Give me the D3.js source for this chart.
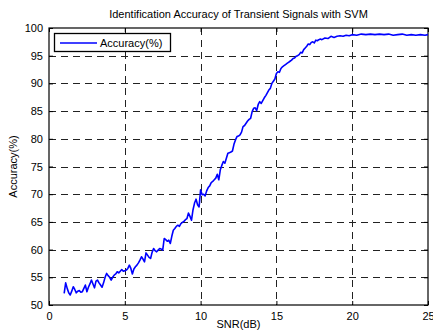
<!DOCTYPE html>
<html><head><meta charset="utf-8">
<script src="https://cdn.jsdelivr.net/npm/d3@7/dist/d3.min.js"></script>
<style>body{margin:0;background:#fff;}svg text{font-family:"Liberation Sans",Arial,sans-serif;}</style>
</head><body>
<script>
const title = "Identification Accuracy of Transient Signals with SVM";
const xLabel = "SNR(dB)";
const yLabel = "Accuracy(%)";
const seriesName = "Accuracy(%)";
const xTicks = [0,5,10,15,20,25];
const yTicks = [50,55,60,65,70,75,80,85,90,95,100];
const snr = [1.0,1.1,1.2,1.3,1.4,1.5,1.6,1.7,1.8,1.9,2.0,2.1,2.2,2.3,2.4,2.5,2.6,2.7,2.8,2.9,
3.0,3.1,3.2,3.3,3.4,3.5,3.6,3.7,3.8,3.9,4.0,4.1,4.2,4.3,4.4,4.5,4.6,4.7,4.8,4.9,
5.0,5.1,5.2,5.3,5.4,5.5,5.6,5.7,5.8,5.9,6.0,6.1,6.2,6.3,6.4,6.5,6.6,6.7,6.8,6.9,
7.0,7.1,7.2,7.3,7.4,7.5,7.6,7.7,7.8,7.9,8.0,8.1,8.2,8.3,8.4,8.5,8.6,8.7,8.8,8.9,
9.0,9.1,9.2,9.3,9.4,9.5,9.6,9.7,9.8,9.9,10.0,10.1,10.2,10.3,10.4,10.5,10.6,10.7,10.8,10.9,
11.0,11.1,11.2,11.3,11.4,11.5,11.6,11.7,11.8,11.9,12.0,12.1,12.2,12.3,12.4,12.5,12.6,12.7,12.8,12.9,
13.0,13.1,13.2,13.3,13.4,13.5,13.6,13.7,13.8,13.9,14.0,14.1,14.2,14.3,14.4,14.5,14.6,14.7,14.8,14.9,
15.0,15.1,15.2,15.3,15.4,15.5,15.6,15.7,15.8,15.9,16.0,16.1,16.2,16.3,16.4,16.5,16.6,16.7,16.8,16.9,
17.0,17.1,17.2,17.3,17.4,17.5,17.6,17.7,17.8,17.9,18.0,18.2,18.4,18.6,18.8,19.0,19.2,19.4,19.6,19.8,
20.0,20.3,20.6,20.9,21.2,21.5,21.8,22.1,22.4,22.7,23.0,23.3,23.6,23.9,24.2,24.5,24.8,25.0];
const accuracy = [52.1,54.0,53.0,52.2,51.8,52.5,53.3,52.8,52.2,52.5,52.6,52.3,52.4,53.0,53.6,52.4,53.2,53.8,54.5,53.8,
53.1,54.3,54.5,54.0,53.6,53.2,54.0,55.0,55.7,55.3,55.0,54.5,55.0,55.4,55.6,56.0,55.8,56.1,56.4,56.1,
56.2,56.3,56.6,57.2,56.6,55.6,56.5,56.9,57.2,57.6,58.1,58.7,58.3,57.8,59.4,59.0,58.6,58.4,59.5,60.2,
59.8,59.6,59.9,60.2,60.1,59.9,62.0,61.8,61.5,61.7,61.1,62.4,63.5,63.8,64.2,64.4,64.2,64.7,64.9,65.1,
65.4,65.6,66.6,66.0,65.3,67.2,68.4,69.1,68.1,67.7,70.8,69.9,70.0,69.7,70.6,71.2,71.5,72.1,72.3,72.6,
72.9,73.6,72.6,74.4,75.2,75.9,75.6,76.5,77.4,77.5,77.6,77.8,79.0,79.8,80.4,80.5,80.7,81.2,82.2,82.4,
82.8,83.2,83.5,83.7,84.9,85.5,85.6,85.1,86.2,86.7,86.4,86.9,87.4,87.8,88.3,88.8,89.1,90.0,90.4,90.8,
91.8,92.1,92.0,92.7,93.0,93.2,93.4,93.6,93.8,94.0,94.2,94.5,94.6,94.9,95.0,95.2,95.6,95.5,96.1,96.4,
96.7,97.1,97.0,97.4,97.5,97.3,97.8,97.7,97.9,98.0,97.9,98.2,98.1,98.5,98.3,98.5,98.6,98.5,98.7,98.6,
98.8,98.7,98.9,98.8,98.9,98.8,98.9,98.8,98.9,98.7,98.8,98.9,98.7,98.8,98.7,98.8,98.7,98.8];

const W = 433, H = 333;
const m = {left:49, right:5, top:28, bottom:28};
const svg = d3.select("body").append("svg").attr("width",W).attr("height",H);
const x = d3.scaleLinear().domain([0,25]).range([m.left, W-m.right]);
const y = d3.scaleLinear().domain([50,100]).range([H-m.bottom, m.top]);
const x0 = x(0), x1 = x(25), y0 = y(50), y1 = y(100);

// grid
const grid = svg.append("g").attr("stroke","#222").attr("stroke-width",1).attr("stroke-dasharray","7,5");
grid.selectAll("line.v").data(xTicks.slice(1,-1)).enter().append("line")
  .attr("x1",d=>Math.round(x(d))+0.5).attr("x2",d=>Math.round(x(d))+0.5).attr("y1",y1).attr("y2",y0);
grid.selectAll("line.h").data(yTicks.slice(1,-1)).enter().append("line")
  .attr("y1",d=>Math.round(y(d))+0.5).attr("y2",d=>Math.round(y(d))+0.5).attr("x1",x0).attr("x2",x1);

// axes with inward ticks
const xAxis = svg.append("g").attr("transform",`translate(0,${y0})`)
  .call(d3.axisBottom(x).tickValues(xTicks).tickSize(-4).tickPadding(7).tickFormat(d3.format("d")));
const xAxisTop = svg.append("g").attr("transform",`translate(0,${y1})`)
  .call(d3.axisTop(x).tickValues(xTicks).tickSize(-4).tickFormat(""));
const yAxis = svg.append("g").attr("transform",`translate(${x0},0)`)
  .call(d3.axisLeft(y).tickValues(yTicks).tickSize(-4).tickPadding(6).tickFormat(d3.format("d")));
const yAxisR = svg.append("g").attr("transform",`translate(${x1},0)`)
  .call(d3.axisRight(y).tickValues(yTicks).tickSize(-4).tickFormat(""));
[xAxis,xAxisTop,yAxis,yAxisR].forEach(a=>{
  a.select(".domain").remove();
  a.selectAll("line").attr("stroke","#000");
  a.selectAll("text").attr("font-size",11).attr("fill","#000").attr("font-family","Liberation Sans, Arial, sans-serif");
});
svg.append("rect").attr("x",x0).attr("y",y1).attr("width",x1-x0).attr("height",y0-y1)
  .attr("fill","none").attr("stroke","#000").attr("stroke-width",1.2);

// line
const pts = snr.map((s,i)=>[s,accuracy[i]]);
svg.append("path").datum(pts).attr("fill","none").attr("stroke","#0000ff").attr("stroke-width",1.6)
  .attr("stroke-linejoin","round")
  .attr("d", d3.line().x(d=>x(d[0])).y(d=>y(d[1])));

// labels
svg.append("text").attr("x",(x0+x1)/2).attr("y",18).attr("text-anchor","middle").attr("font-size",11).text(title);
svg.append("text").attr("x",(x0+x1)/2).attr("y",328).attr("text-anchor","middle").attr("font-size",11).text(xLabel);
svg.append("text").attr("transform",`translate(17,${(y0+y1)/2}) rotate(-90)`).attr("text-anchor","middle").attr("font-size",11).text(yLabel);

// legend
const lg = svg.append("g");
lg.append("rect").attr("x",54.5).attr("y",33.5).attr("width",116).attr("height",18)
  .attr("fill","#fff").attr("stroke","#000").attr("stroke-width",1.3);
lg.append("line").attr("x1",60).attr("x2",97).attr("y1",43).attr("y2",43).attr("stroke","#0000ff").attr("stroke-width",1.6);
lg.append("text").attr("x",100).attr("y",47).attr("font-size",11).text(seriesName);
</script>
</body></html>
